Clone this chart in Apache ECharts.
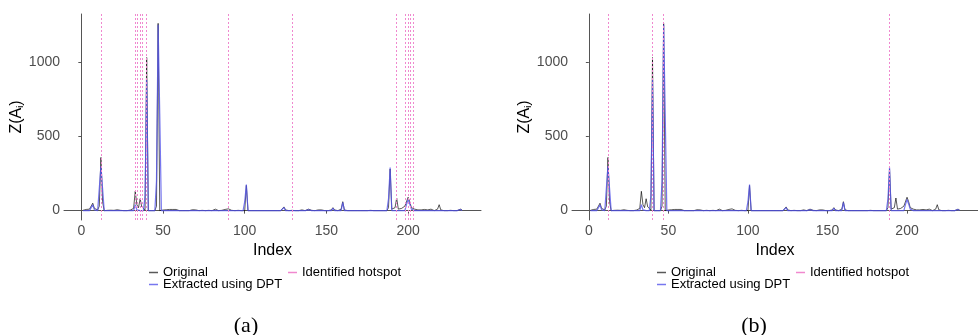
<!DOCTYPE html>
<html>
<head>
<meta charset="utf-8">
<script src="https://cdn.jsdelivr.net/npm/echarts@6/dist/echarts.min.js"></script>
<style>
  html, body { margin: 0; padding: 0; background: #fff; }
  #chart { width: 978px; height: 335px; }
</style>
</head>
<body>
<div id="chart"></div>
<script>
// index runs 1..233
var original = [
  2, 5, 8, 6, 10, 8, 50, 15, 10, 5,
  30, 358, 60, 0, 0, 2, 0, 3, 0, 2,
  8, 6, 0, 2, 0, 0, 3, 0, 2, 4,
  8, 15, 130, 40, 20, 80, 25, 30, 5, 1030,
  0, 0, 0, 0, 0, 30, 1260, 0, 0, 4,
  2, 6, 3, 8, 4, 8, 10, 8, 2, 0,
  2, 0, 4, 0, 2, 0, 3, 6, 8, 5,
  2, 0, 0, 2, 0, 0, 0, 2, 0, 0,
  4, 10, 2, 0, 0, 2, 4, 8, 6, 12,
  5, 2, 0, 0, 0, 2, 0, 0, 0, 0,
  170, 0, 0, 0, 0, 0, 0, 0, 0, 0,
  0, 0, 0, 0, 0, 0, 0, 0, 0, 0,
  0, 0, 5, 25, 5, 2, 0, 0, 2, 0,
  0, 0, 0, 2, 5, 2, 0, 4, 10, 5,
  2, 0, 0, 0, 5, 6, 5, 2, 0, 0,
  0, 2, 5, 20, 5, 2, 0, 2, 10, 60,
  5, 0, 0, 0, 0, 0, 0, 0, 0, 0,
  0, 0, 0, 0, 0, 0, 2, 8, 0, 0,
  0, 0, 0, 0, 0, 0, 0, 20, 280, 10,
  5, 20, 85, 10, 5, 15, 10, 30, 20, 90,
  60, 20, 15, 10, 20, 5, 10, 5, 10, 8,
  10, 5, 5, 10, 0, 0, 2, 10, 40, 5,
  2, 0, 0, 0, 0, 2, 0, 0, 0, 0,
  2, 10, 5
];

var extracted = [
  0, 0, 0, 0, 0, 0, 40, 5, 0, 0,
  0, 300, 150, 0, 0, 0, 0, 0, 0, 0,
  0, 0, 0, 0, 0, 0, 0, 0, 0, 0,
  0, 0, 40, 5, 0, 0, 0, 0, 100, 880,
  0, 0, 0, 0, 0, 200, 1250, 650, 0, 0,
  0, 0, 0, 0, 0, 0, 0, 0, 0, 0,
  0, 0, 0, 0, 0, 0, 0, 0, 0, 0,
  0, 0, 0, 0, 0, 0, 0, 0, 0, 0,
  0, 0, 0, 0, 0, 0, 0, 0, 0, 0,
  0, 0, 0, 0, 0, 0, 0, 0, 0, 60,
  175, 0, 0, 0, 0, 0, 0, 0, 0, 0,
  0, 0, 0, 0, 0, 0, 0, 0, 0, 0,
  0, 0, 0, 20, 0, 0, 0, 0, 0, 0,
  0, 0, 0, 0, 0, 0, 0, 0, 5, 0,
  0, 0, 0, 0, 0, 0, 0, 0, 0, 0,
  0, 0, 0, 15, 0, 0, 0, 0, 0, 55,
  0, 0, 0, 0, 0, 0, 0, 0, 0, 0,
  0, 0, 0, 0, 0, 0, 0, 0, 0, 0,
  0, 0, 0, 0, 0, 0, 0, 80, 290, 0,
  0, 0, 0, 0, 0, 0, 0, 0, 40, 75,
  45, 10, 0, 0, 0, 0, 0, 0, 0, 0,
  0, 0, 0, 0, 0, 0, 0, 0, 5, 0,
  0, 0, 0, 0, 0, 0, 0, 0, 0, 0,
  0, 8, 0
];

var hotspotsA = [12, 33, 34, 36, 37, 40, 90, 129, 193, 198, 200, 201, 203];
var hotspotsB = [12, 40, 47, 189];

var xTicks = [0, 50, 100, 150, 200];
var yTicks = [0, 500, 1000];
var panelLabels = ['(a)', '(b)'];

var chart = echarts.init(document.getElementById('chart'));

var FONT = '"Liberation Sans", Arial, sans-serif';
var GREY = '#4d4d4d';
var PINK = '#f088cf';
var BLACK_LINE = 'rgba(0,0,0,0.65)';
var BLUE_LINE = 'rgba(85,85,235,0.8)';

function pairs(arr) {
  return arr.map(function (v, i) { return [i + 1, v]; });
}

var grids = [
  { left: 64, top: 14, width: 417, height: 206 },
  { left: 572, top: 14, width: 416, height: 206 }
];

var xAxes = [], yAxes = [], series = [], legends = [], graphics = [];

[hotspotsA, hotspotsB].forEach(function (hot, k) {
  xAxes.push({
    type: 'value', gridIndex: k, min: -10.6, max: 244.6,
    name: 'Index', nameLocation: 'middle', nameGap: 17,
    nameTextStyle: { fontFamily: FONT, fontSize: 16, color: '#000' },
    axisLine: { lineStyle: { color: '#555', width: 1 } },
    axisTick: { length: 3, customValues: xTicks, lineStyle: { color: '#555' } },
    axisLabel: { customValues: xTicks, fontFamily: FONT, fontSize: 14, color: GREY, margin: 4 },
    splitLine: { show: false }
  });
  yAxes.push({
    type: 'value', gridIndex: k, min: -63, max: 1323,
    name: '{a|Z(A}{s|i}{a|)}', nameLocation: 'middle', nameGap: 33, nameRotate: 90,
    nameTextStyle: {
      rich: {
        a: { fontFamily: FONT, fontSize: 16, color: '#000' },
        s: { fontFamily: FONT, fontSize: 9, color: '#000', padding: [8, 0, 0, 0] }
      }
    },
    axisLine: { show: true, lineStyle: { color: '#555', width: 1 } },
    axisTick: { show: true, length: 3, customValues: yTicks, lineStyle: { color: '#555' } },
    axisLabel: {
      customValues: yTicks, fontFamily: FONT, fontSize: 14, color: GREY, margin: 4,
      formatter: function (v) { return String(v); }
    },
    splitLine: { show: false }
  });
  series.push({
    name: 'Identified hotspot', type: 'line', xAxisIndex: k, yAxisIndex: k,
    data: [], color: PINK, symbol: 'none',
    markLine: {
      symbol: 'none', silent: true, animation: false,
      label: { show: false },
      lineStyle: { color: PINK, type: [2, 2], width: 1 },
      data: hot.map(function (h) { return { xAxis: h }; })
    }
  });
  series.push({
    name: 'Original', type: 'line', xAxisIndex: k, yAxisIndex: k,
    data: pairs(original), symbol: 'none', color: BLACK_LINE,
    lineStyle: { color: BLACK_LINE, width: 1 }
  });
  series.push({
    name: 'Extracted using DPT', type: 'line', xAxisIndex: k, yAxisIndex: k,
    data: pairs(extracted), symbol: 'none', color: BLUE_LINE,
    lineStyle: { color: BLUE_LINE, width: 1.2 }
  });

  var dx = k * 508;
  var common = {
    orient: 'vertical', itemWidth: 9, itemHeight: 1.5, icon: 'rect',
    selectedMode: false, padding: 0,
    textStyle: { fontFamily: FONT, fontSize: 13, color: '#000' }
  };
  legends.push(Object.assign({ data: ['Original'], left: 149 + dx, top: 266 }, common));
  legends.push(Object.assign({ data: ['Extracted using DPT'], left: 149 + dx, top: 278 }, common));
  legends.push(Object.assign({ data: ['Identified hotspot'], left: 288 + dx, top: 266 }, common));

  graphics.push({
    type: 'text', x: 246 + dx, y: 326,
    style: {
      text: panelLabels[k], font: '22px "Liberation Serif", "Times New Roman", serif',
      fill: '#000', textAlign: 'center', textVerticalAlign: 'middle'
    }
  });
});

chart.setOption({
  animation: false,
  backgroundColor: '#fff',
  grid: grids,
  xAxis: xAxes,
  yAxis: yAxes,
  legend: legends,
  series: series,
  graphic: graphics
});
</script>
</body>
</html>
